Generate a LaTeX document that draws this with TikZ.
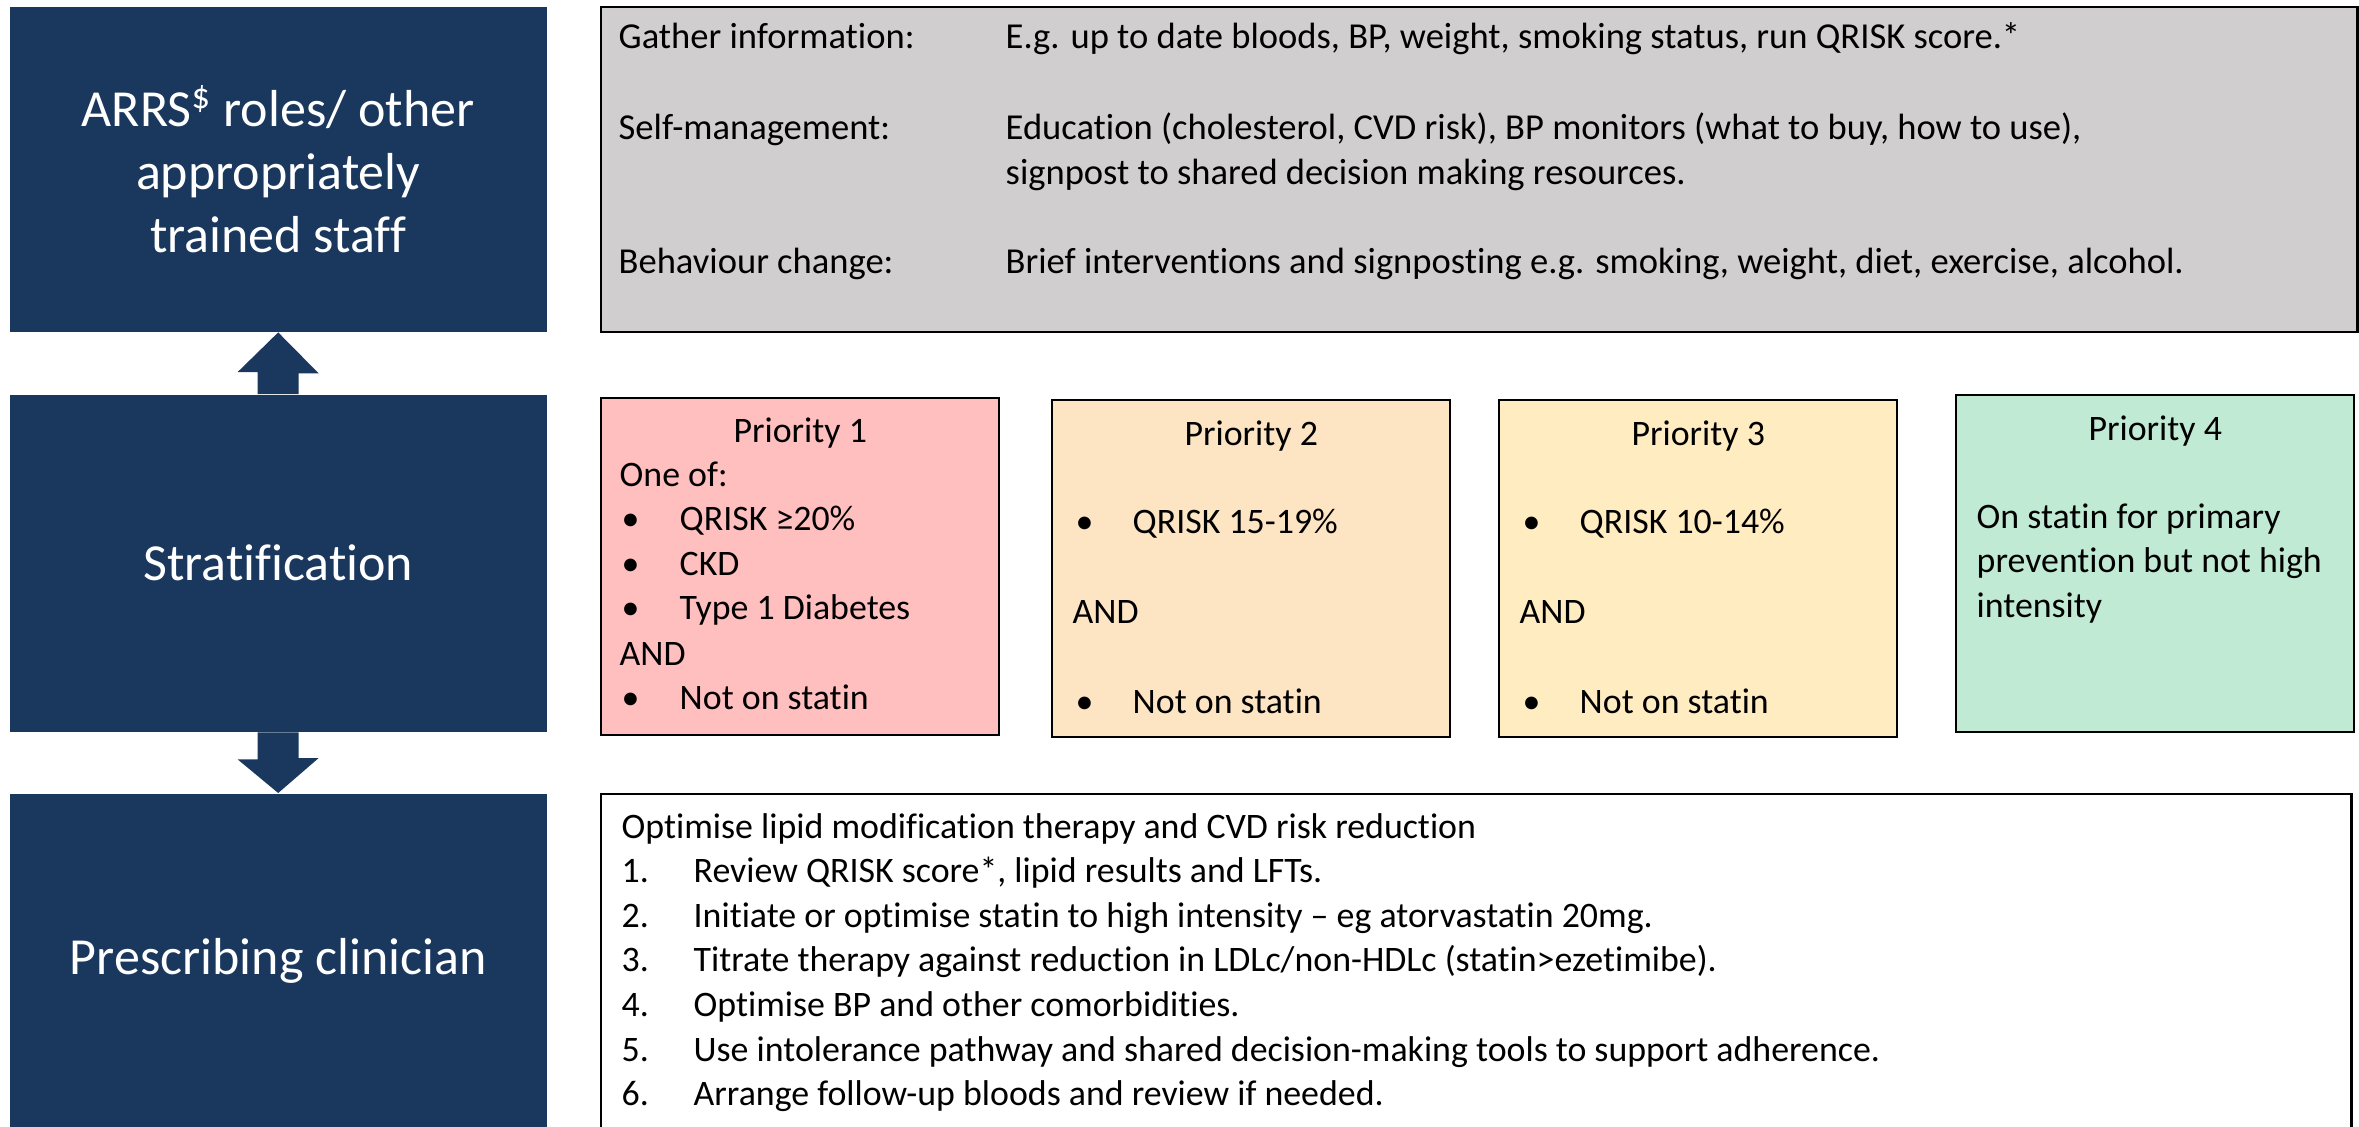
\documentclass[tikz,border=0pt]{standalone}
\usepackage{fontspec}
\setmainfont{Carlito}[Ligatures=NoCommon]
\usepackage{tikz}
\usetikzlibrary{positioning}
\definecolor{pathnavy}{RGB}{26,55,94}
\definecolor{gathergrey}{RGB}{208,206,206}
\definecolor{prioone}{RGB}{255,191,191}
\definecolor{priotwo}{RGB}{253,228,194}
\definecolor{priothree}{RGB}{255,236,193}
\definecolor{priofour}{RGB}{193,234,213}
\newcommand{\bodyfont}{\fontsize{10.2}{12.7}\selectfont}
\newcommand{\gatherfont}{\fontsize{10.4}{12.7}\selectfont}
\newcommand{\rolefont}{\fontsize{14.8}{17.9}\selectfont}

\begin{document}
\begin{tikzpicture}[
    rolebox/.style={fill=pathnavy, text=white, minimum width=5.37cm, inner sep=0pt,
        anchor=north west, align=center, font=\rolefont},
    taskbox/.style={draw=black, line width=0.7pt, anchor=north west, inner sep=0pt},
    priobox/.style={taskbox, minimum width=3.98cm, minimum height=3.37cm},
    txt/.style={anchor=base west, inner sep=0pt, font=\bodyfont},
    gtxt/.style={txt, font=\gatherfont},
    ttl/.style={anchor=base, inner sep=0pt, font=\bodyfont}
]
\clip (0,0) rectangle (23.59,-11.26);

% staff column
\node[rolebox, minimum height=3.25cm] (arrs) at (0.09,-0.06)
    {ARRS\textsuperscript{\$} roles/ other\\appropriately\\trained staff};
\node[rolebox, minimum height=3.37cm] (strat) at (0.09,-3.94) {Stratification};
\node[rolebox, minimum height=3.35cm] (presc) at (0.09,-7.93) {Prescribing clinician};

\fill[pathnavy] (arrs.south) -- ++(0.405,-0.41) -- ++(-0.2,0)
    -- ([xshift=2.05mm]strat.north) -- ([xshift=-2.05mm]strat.north)
    -- ++(0,0.22) -- ++(-0.2,0) -- cycle;
\fill[pathnavy] (presc.north) -- ++(0.405,0.35) -- ++(-0.2,0)
    -- ([xshift=2.05mm]strat.south) -- ([xshift=-2.05mm]strat.south)
    -- ++(0,-0.27) -- ++(-0.2,0) -- cycle;

% gather information
\node[taskbox, fill=gathergrey, minimum width=17.56cm, minimum height=3.25cm] (gather) at (6.00,-0.06) {};
\node[gtxt] (gatherlbl) at ([shift={(0.18,-0.43)}]gather.north west) {Gather information:};
\node[gtxt] at ([shift={(4.05,-0.43)}]gather.north west)
    {E.g. up to date bloods, BP, weight, smoking status, run QRISK score.*};
\node[gtxt] (selflbl) at ([shift={(0.18,-1.34)}]gather.north west) {Self-management:};
\node[gtxt] at ([shift={(4.05,-1.34)}]gather.north west)
    {Education (cholesterol, CVD risk), BP monitors (what to buy, how to use),};
\node[gtxt] at ([shift={(4.05,-1.79)}]gather.north west)
    {signpost to shared decision making resources.};
\node[gtxt] (behavlbl) at ([shift={(0.18,-2.67)}]gather.north west) {Behaviour change:};
\node[gtxt] at ([shift={(4.05,-2.67)}]gather.north west)
    {Brief interventions and signposting e.g. smoking, weight, diet, exercise, alcohol.};

% priorities
\node[priobox, fill=prioone] (prio1) at (6.00,-3.97) {};
\node[priobox, fill=priotwo] (prio2) at (10.51,-3.99) {};
\node[priobox, fill=priothree] (prio3) at (14.98,-3.99) {};
\node[priobox, fill=priofour] (prio4) at (19.55,-3.94) {};

\node[ttl] at ([yshift=-0.45cm]prio1.north) {Priority 1};
\node[txt] at ([shift={(0.19,-0.89)}]prio1.north west) {One of:};
\foreach \y/\entry in {1.335/QRISK ≥20\%, 1.78/CKD, 2.225/Type 1 Diabetes, 3.125/Not on statin} {
    \node[txt] at ([shift={(0.21,-\y)}]prio1.north west) {•};
    \node[txt] at ([shift={(0.79,-\y)}]prio1.north west) {\entry};
}
\node[txt] at ([shift={(0.19,-2.68)}]prio1.north west) {AND};

\foreach \p/\k/\entry in {prio2/2/QRISK 15-19\%, prio3/3/QRISK 10-14\%} {
    \node[ttl] at ([yshift=-0.46cm]\p.north) {Priority \k};
    \node[txt] at ([shift={(0.24,-1.34)}]\p.north west) {•};
    \node[txt] at ([shift={(0.81,-1.34)}]\p.north west) {\entry};
    \node[txt] at ([shift={(0.21,-2.24)}]\p.north west) {AND};
    \node[txt] at ([shift={(0.24,-3.14)}]\p.north west) {•};
    \node[txt] at ([shift={(0.81,-3.14)}]\p.north west) {Not on statin};
}

\node[ttl] at ([yshift=-0.46cm]prio4.north) {Priority 4};
\foreach \y/\entry in {1.34/On statin for primary, 1.785/prevention but not high, 2.23/intensity} {
    \node[txt] at ([shift={(0.21,-\y)}]prio4.north west) {\entry};
}

% prescribing tasks
\node[taskbox, fill=white, minimum width=17.50cm, minimum height=3.50cm] (lipid) at (6.00,-7.93) {};
\node[txt] at ([shift={(0.21,-0.45)}]lipid.north west)
    {Optimise lipid modification therapy and CVD risk reduction};
\foreach \n/\entry in {
    1/{Review QRISK score*, lipid results and LFTs.},
    2/{Initiate or optimise statin to high intensity – eg atorvastatin 20mg.},
    3/{Titrate therapy against reduction in LDLc/non-HDLc (statin>ezetimibe).},
    4/{Optimise BP and other comorbidities.},
    5/{Use intolerance pathway and shared decision-making tools to support adherence.},
    6/{Arrange follow-up bloods and review if needed.}} {
    \node[txt] at ([shift={(0.21,-0.45-0.446*\n)}]lipid.north west) {\n.};
    \node[txt] at ([shift={(0.93,-0.45-0.446*\n)}]lipid.north west) {\entry};
}
\end{tikzpicture}
\end{document}
